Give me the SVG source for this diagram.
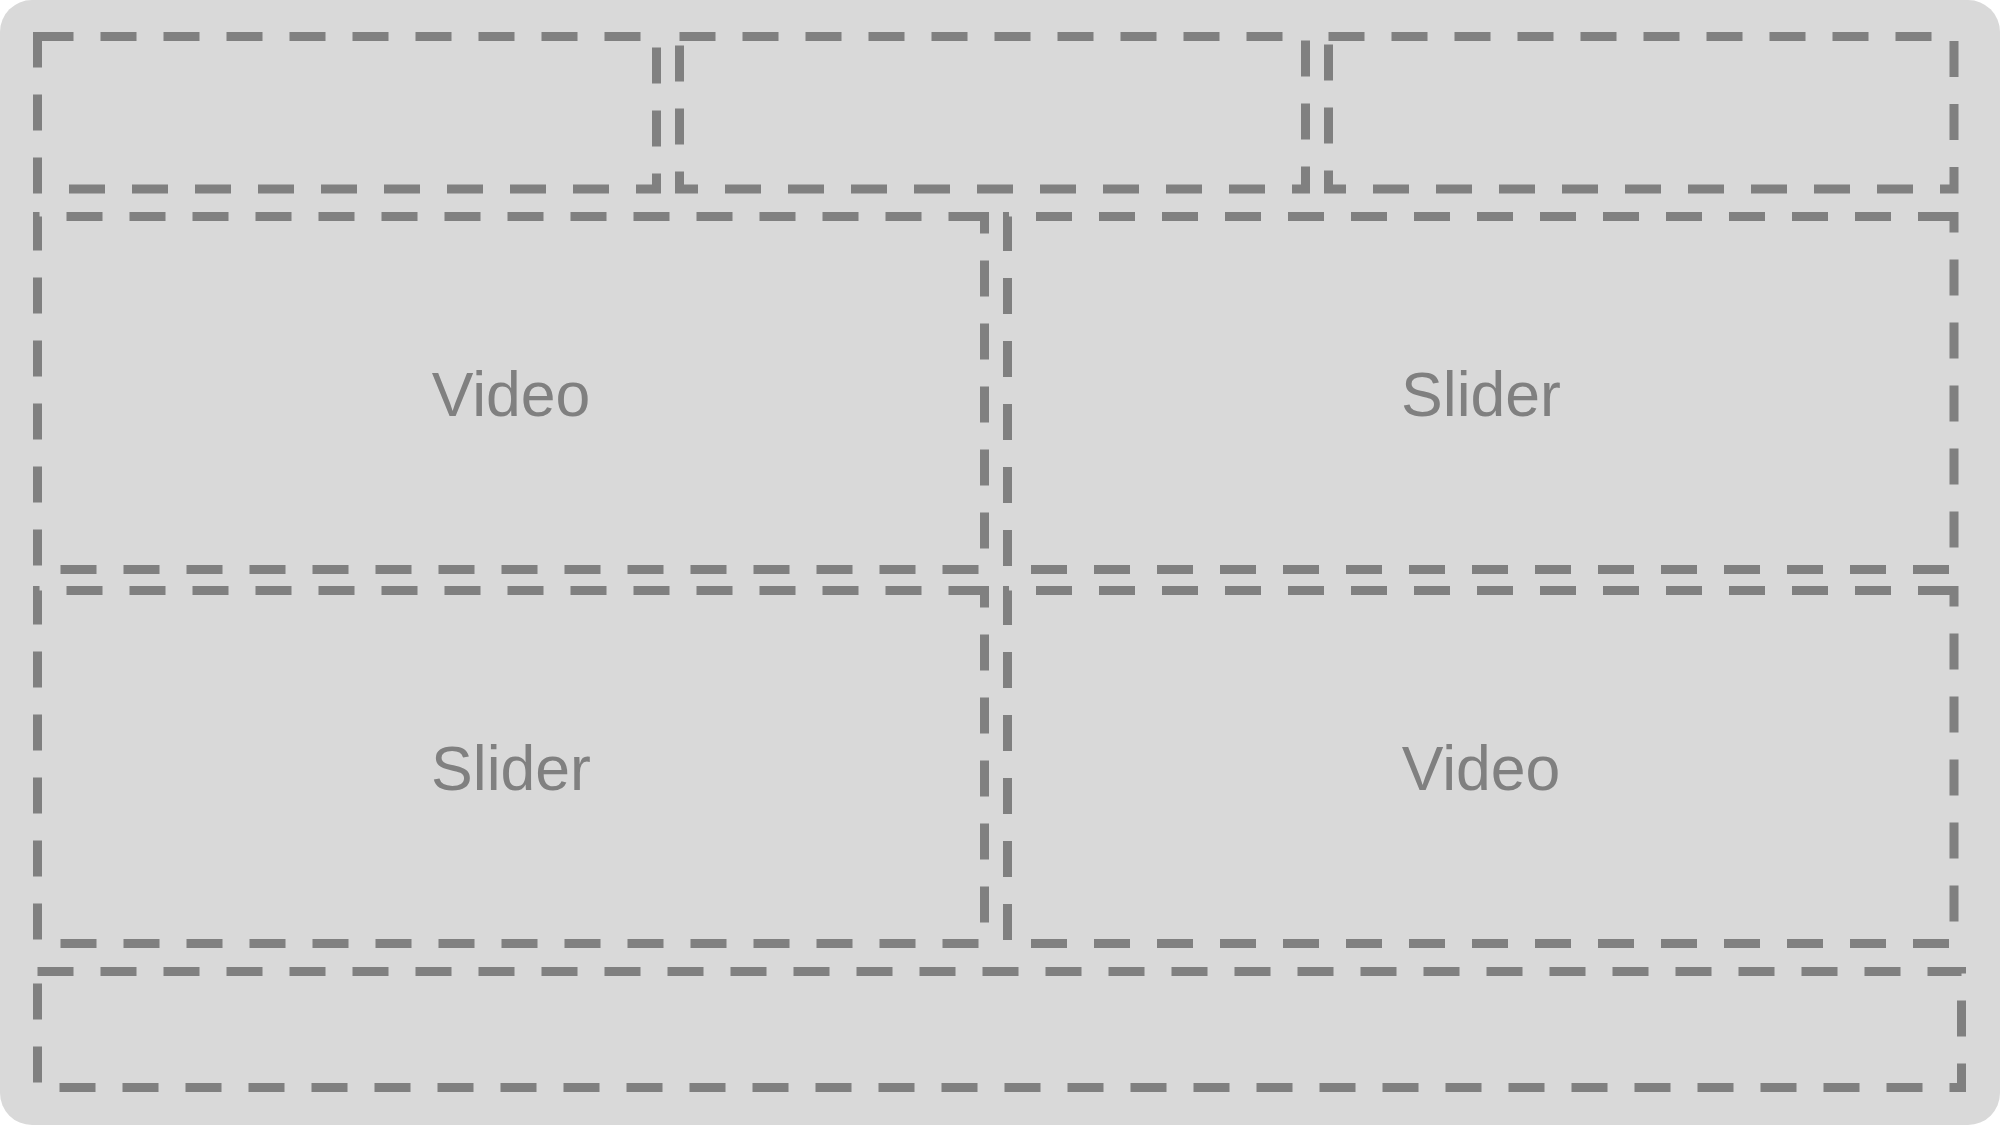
<svg xmlns="http://www.w3.org/2000/svg" width="2000" height="1125" viewBox="0 0 2000 1125">
<style>
.box{fill:none;stroke:#808080;stroke-width:9;stroke-dasharray:36 27;stroke-linejoin:miter}
.lbl{font-family:"Liberation Sans",Arial,sans-serif;font-size:62.5px;fill:#808080;text-anchor:middle}
</style>
<rect id="background" x="0" y="0" width="2000" height="1125" rx="32" ry="32" fill="#d9d9d9"/>
<g id="header-left"><path class="box" d="M37.5,36.5 H656.5 V189 H37.5 Z"/></g>
<g id="header-center"><path class="box" d="M679.5,36.5 H1305.5 V189 H679.5 Z"/></g>
<g id="header-right"><path class="box" d="M1328.5,36.5 H1954 V189 H1328.5 Z"/></g>
<g id="video-top"><path class="box" d="M984.5,216.5 H37.5 V569.5 H984.5 Z"/><text class="lbl" x="511" y="415.5">Video</text></g>
<g id="slider-top"><path class="box" d="M1954,216.5 H1007.5 V569.5 H1954 Z"/><text class="lbl" x="1481" y="415.5">Slider</text></g>
<g id="slider-bottom"><path class="box" d="M984.5,590.5 H37.5 V943.5 H984.5 Z"/><text class="lbl" x="511" y="789.5">Slider</text></g>
<g id="video-bottom"><path class="box" d="M1954,590.5 H1007.5 V943.5 H1954 Z"/><text class="lbl" x="1481" y="789.5">Video</text></g>
<g id="footer"><path class="box" d="M37.5,971.5 H1961.5 V1087.5 H37.5 Z"/></g>
<g id="connectors"></g>
</svg>
